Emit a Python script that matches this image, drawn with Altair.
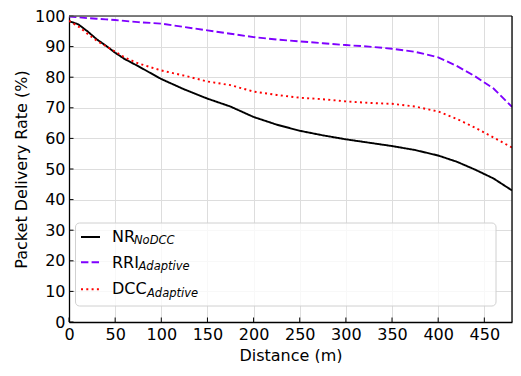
import altair as alt
import pandas as pd

distance = [0, 10, 20, 30, 40, 50, 60, 75, 100, 125, 150, 175, 200, 225, 250,
            275, 300, 325, 350, 375, 400, 420, 440, 460, 480]
nr_nodcc = [98.3, 97.3, 95.0, 92.4, 90.3, 88.0, 86.0, 83.6, 79.4, 76.0, 73.0, 70.4,
            67.0, 64.5, 62.5, 61.0, 59.7, 58.6, 57.5, 56.2, 54.4, 52.4, 49.8, 46.9, 43.0]
rri_adaptive = [99.8, 99.6, 99.3, 99.1, 98.9, 98.7, 98.4, 98.0, 97.5, 96.4, 95.3, 94.2,
                93.1, 92.3, 91.7, 91.1, 90.5, 90.0, 89.3, 88.3, 86.5, 83.7, 80.3, 76.3, 70.3]
dcc_adaptive = [98.4, 96.6, 94.2, 91.9, 90.1, 88.4, 86.5, 84.5, 82.2, 80.5, 78.6, 77.4,
                75.3, 74.2, 73.3, 72.8, 72.1, 71.6, 71.3, 70.4, 68.8, 66.4, 63.5, 60.3, 57.0]

series_names = ["NR", "RRI", "DCC"]
series_subs = ["NoDCC", "Adaptive", "Adaptive"]
series_colors = ["#000000", "#7f00ff", "#ff0000"]
series_dash = [[1, 0], [7.4, 3.2], [2, 3.3]]

x_ticks = [0, 50, 100, 150, 200, 250, 300, 350, 400, 450]
y_ticks = [0, 10, 20, 30, 40, 50, 60, 70, 80, 90, 100]

W, H = 443, 306
FONT = "DejaVu Sans"

rows = []
for name, vals in zip(series_names, [nr_nodcc, rri_adaptive, dcc_adaptive]):
    for d, v in zip(distance, vals):
        rows.append({"distance": d, "pdr": v, "series": name})
df = pd.DataFrame(rows)

xscale = alt.Scale(domain=[0, 480], nice=False, zero=False)
yscale = alt.Scale(domain=[0, 100], nice=False)

x_axis = alt.Axis(values=x_ticks, grid=True, gridColor="#dddddd", gridWidth=1,
                  ticks=False, labelFontSize=16, labelFont=FONT, labelColor="#000",
                  labelPadding=4, domainColor="#000", domainWidth=1.3,
                  labelFlush=False,
                  title="Distance (m)", titleFont=FONT, titleFontSize=16,
                  titleFontWeight="normal", titleColor="#000",
                  titleX=W / 2, titleY=38, titleBaseline="alphabetic")
y_axis = alt.Axis(values=y_ticks, grid=True, gridColor="#dddddd", gridWidth=1,
                  ticks=False, labelFontSize=16, labelFont=FONT, labelColor="#000",
                  labelPadding=4, domainColor="#000", domainWidth=1.3,
                  labelFlush=False,
                  title="Packet Delivery Rate (%)", titleFont=FONT, titleFontSize=16,
                  titleFontWeight="normal", titleColor="#000",
                  titleX=-43, titleY=H / 2, titleAngle=-90,
                  titleBaseline="alphabetic", titleAlign="center")

lines = alt.Chart(df).mark_line(strokeWidth=1.9, clip=True).encode(
    x=alt.X("distance:Q", scale=xscale, axis=x_axis),
    y=alt.Y("pdr:Q", scale=yscale, axis=y_axis),
    color=alt.Color("series:N", scale=alt.Scale(domain=series_names, range=series_colors), legend=None),
    strokeDash=alt.StrokeDash("series:N", scale=alt.Scale(domain=series_names, range=series_dash), legend=None),
)

xt = pd.DataFrame({"distance": x_ticks})
yt = pd.DataFrame({"pdr": y_ticks})
xtick_marks = alt.Chart(xt).mark_rule(color="#000", strokeWidth=1).encode(
    x=alt.X("distance:Q", scale=xscale, axis=x_axis), y=alt.value(H), y2=alt.value(H - 4.5))
ytick_marks = alt.Chart(yt).mark_rule(color="#000", strokeWidth=1).encode(
    y=alt.Y("pdr:Q", scale=yscale, axis=y_axis), x=alt.value(0), x2=alt.value(4.5))

top_spine = alt.Chart(pd.DataFrame({"a": [0]})).mark_rule(color="#555555", strokeWidth=1.3).encode(
    x=alt.value(0), x2=alt.value(W), y=alt.value(0))
right_spine = alt.Chart(pd.DataFrame({"a": [0]})).mark_rule(color="#000000", strokeWidth=1.3).encode(
    x=alt.value(W), y=alt.value(0), y2=alt.value(H))

legend_box = alt.Chart(pd.DataFrame({"a": [0]})).mark_rect(
    fill="#ffffff", fillOpacity=0.8, stroke="#d0d0d0", strokeWidth=1, cornerRadius=4).encode(
    x=alt.value(6.5), x2=alt.value(427), y=alt.value(H - 99), y2=alt.value(H - 16))

leg_line_y = [H - 85, H - 59.7, H - 32.7]
leg_text_y = [H - 80.3, H - 54.3, H - 27.7]
main_widths = [22, 26.5, 35]
leg_layers = []
for i in range(3):
    one = pd.DataFrame({"a": [0]})
    leg_layers.append(alt.Chart(one).mark_rule(
        color=series_colors[i], strokeWidth=2, strokeDash=series_dash[i]).encode(
        x=alt.value(12), x2=alt.value(31), y=alt.value(leg_line_y[i])))
    leg_layers.append(alt.Chart(one).mark_text(
        text=series_names[i], font=FONT, fontSize=16, align="left", baseline="alphabetic",
        color="#000").encode(x=alt.value(43), y=alt.value(leg_text_y[i])))
    leg_layers.append(alt.Chart(one).mark_text(
        text=series_subs[i], font=FONT, fontSize=11.5, fontStyle="italic", align="left",
        baseline="alphabetic", color="#000").encode(
        x=alt.value(43 + main_widths[i]), y=alt.value(leg_text_y[i] + 2.7)))

chart = alt.layer(
    lines, xtick_marks, ytick_marks, top_spine, right_spine, legend_box, *leg_layers
).properties(
    width=W, height=H,
    autosize=alt.AutoSizeParams(type="none"),
    padding={"left": 61, "top": 8, "right": 1, "bottom": 41},
).configure_view(stroke=None).configure(background="#ffffff")

chart.save("out.html", embed_options={"renderer": "svg", "actions": False})
